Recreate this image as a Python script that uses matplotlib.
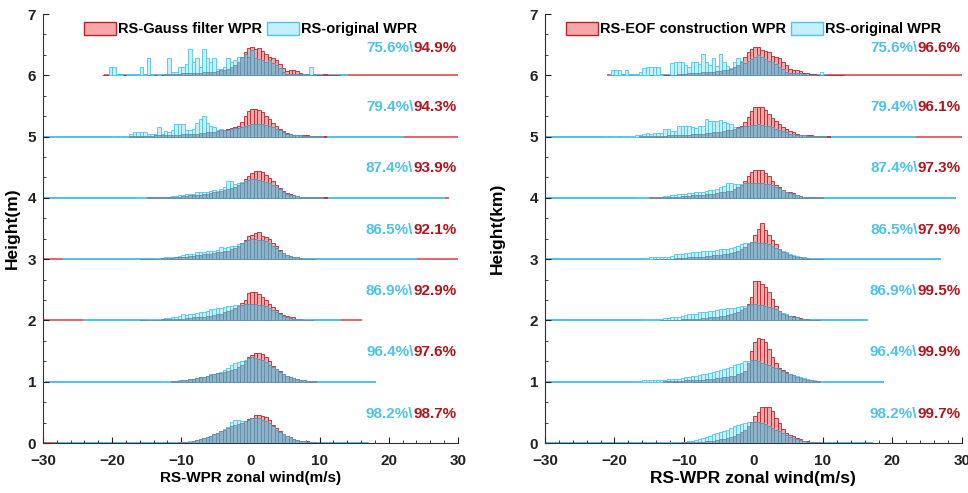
import numpy as np
import matplotlib.pyplot as plt
from matplotlib.patches import Patch
from matplotlib.ticker import MultipleLocator

plt.rcParams['font.family'] = ['Liberation Sans', 'DejaVu Sans']
plt.rcParams['font.weight'] = 'bold'

# bins are 0.5 m/s wide, left edges from -22 to 13.5
bin_left = np.arange(-22, 14, 0.5)
levels = [0, 1, 2, 3, 4, 5, 6]

# --- left panel: RS-Gauss filter WPR (red) vs RS-original WPR (cyan), values in % of 1 km row ---
gauss_h0 = [0,0,0,0, 0,0,0,0, 0,0,0,0, 0,0,0,0, 0,0,0,0, 0,0,0,1, 1,2,2,3, 5,6,8,10, 12,14,17,20, 22,25,27,29, 31,33,36,39, 41,45,45,44, 43,38,30,24, 19,15,12,9, 7,5,4,3, 3,1,1,0, 0,0,0,0, 0,0,0,0]
gauss_h1 = [0,0,0,0, 0,0,0,0, 0,0,0,0, 0,0,0,0, 0,0,0,0, 0,1,1,1, 2,3,4,5, 6,7,8,10, 11,13,14,15, 16,17,19,21, 24,28,33,40, 44,47,47,45, 40,33,26,21, 17,13,10,8, 6,4,3,2, 1,1,1,0, 0,0,0,0, 0,0,0,0]
gauss_h2 = [0,0,0,0, 0,0,0,0, 0,0,0,0, 1,1,1,1, 1,1,2,2, 2,2,3,3, 3,4,4,5, 5,6,6,7, 8,9,10,11, 13,15,17,20, 24,28,33,44, 46,46,43,38, 33,27,22,17, 12,9,7,6, 6,3,2,1, 1,1,0,0, 0,0,0,0, 0,0,0,0]
gauss_h3 = [0,0,0,0, 0,0,0,0, 0,0,0,0, 1,1,1,1, 1,1,2,2, 2,2,3,3, 4,4,5,5, 6,7,8,8, 9,10,11,12, 13,14,16,19, 22,26,32,37, 40,42,45,38, 36,33,26,21, 15,10,7,5, 3,3,2,1, 1,1,1,0, 0,0,0,0, 0,0,0,0]
gauss_h4 = [0,0,0,0, 0,0,0,0, 0,0,0,0, 0,0,1,1, 1,1,1,1, 1,2,2,2, 3,3,4,4, 5,5,6,7, 8,9,10,11, 13,14,16,18, 21,25,30,36, 41,44,44,42, 38,33,27,21, 16,11,8,6, 4,3,2,2, 1,1,1,1, 1,1,0,0, 0,0,0,0]
gauss_h5 = [0,0,0,0, 0,0,0,0, 0,1,1,1, 1,1,1,1, 2,2,2,2, 2,3,3,3, 4,4,4,5, 5,6,6,7, 7,8,9,10, 11,12,14,16, 18,24,33,41, 45,45,44,40, 34,28,22,17, 12,9,6,4, 3,3,2,2, 2,1,1,1, 1,1,0,0, 0,0,0,0]
gauss_h6 = [0,1,1,0, 0,0,0,1, 0,0,0,0, 0,0,1,0, 1,0,1,2, 2,2,2,2, 3,3,3,4, 4,4,5,5, 6,6,7,8, 9,11,13,16, 22,30,38,45, 46,43,44,40, 34,30,29,25, 19,12,7,8, 8,7,4,2, 2,1,2,1, 1,2,1,1, 1,1,0,0]

origL_h0 = [0,0,0,0, 0,0,0,0, 0,0,0,0, 0,0,0,0, 0,0,0,0, 0,0,1,1, 1,2,3,4, 5,6,8,10, 12,14,17,20, 23,26,35,37, 37,36,36,38, 40,41,40,38, 36,32,27,22, 18,15,12,9, 7,5,4,3, 2,1,1,0, 0,0,0,0, 0,0,0,0]
origL_h1 = [0,0,0,0, 0,0,0,0, 0,0,0,0, 0,0,0,0, 0,0,1,1, 1,1,1,2, 2,3,4,5, 6,7,8,10, 12,13,15,16, 19,22,27,30, 32,34,36,38, 40,39,37,35, 32,28,24,20, 16,13,10,8, 6,4,3,2, 1,1,1,0, 0,0,0,0, 0,0,0,0]
origL_h2 = [0,0,0,0, 0,0,0,0, 0,1,1,1, 1,1,2,2, 2,3,3,4, 4,5,6,8, 10,9,10,11, 12,14,14,16, 18,19,20,20, 22,23,24,25, 26,26,27,27, 27,27,26,25, 23,20,17,14, 11,8,6,4, 3,2,2,1, 3,1,0,0, 0,0,0,0, 0,0,0,0]
origL_h3 = [0,0,0,0, 0,0,0,0, 0,0,1,1, 1,1,1,1, 2,2,2,3, 3,4,4,5, 7,9,8,9, 11,12,12,13, 14,13,15,20, 19,20,21,22, 24,26,29,31, 33,33,32,31, 29,26,22,18, 14,10,7,5, 4,3,2,1, 1,1,1,0, 0,0,0,0, 0,0,0,0]
origL_h4 = [0,0,0,0, 0,0,0,0, 0,0,0,1, 1,1,1,1, 1,2,2,2, 2,3,3,4, 5,6,6,7, 9,10,9,10, 11,13,12,14, 18,27,28,22, 24,26,28,29, 30,30,29,28, 26,24,21,18, 14,10,7,5, 4,3,2,2, 1,1,1,1, 1,0,0,0, 0,0,0,0]
origL_h5 = [0,0,0,0, 1,0,1,0, 1,5,7,7, 7,7,5,5, 5,16,5,9, 8,11,21,21, 21,10,11,12, 22,28,33,22, 17,15,11,12, 10,10,12,14, 14,16,17,19, 20,21,20,20, 19,18,15,13, 10,7,5,4, 3,2,2,1, 1,1,1,1, 1,0,1,0, 0,0,0,0]
origL_h6 = [0,0,0,14, 14,0,0,0, 0,0,0,0, 14,0,29,0, 0,0,0,2, 29,6,6,14, 14,19,43,22, 29,14,43,29, 22,29,10,10, 14,29,22,25, 30,30,35,30, 42,28,27,25, 22,25,20,17, 12,6,2,2, 2,2,2,2, 2,14,2,0, 0,0,0,0, 0,0,0,0]

# --- right panel: RS-EOF construction WPR (red) vs RS-original WPR (cyan) ---
eof_h0 = [0,0,0,0, 0,0,0,0, 0,0,0,0, 0,0,0,0, 0,0,0,0, 0,0,0,1, 1,1,1,2, 2,2,3,3, 4,5,6,7, 8,10,12,15, 18,22,27,34, 44,50,58,59, 58,52,40,32, 23,16,13,11, 8,6,4,3, 2,1,1,0, 0,0,0,0, 0,0,0,0]
eof_h1 = [0,0,0,0, 0,0,0,0, 0,0,0,0, 0,0,0,0, 0,0,1,1, 1,1,1,1, 2,2,2,3, 3,3,4,4, 5,6,6,7, 8,9,10,12, 14,17,30,50, 64,71,70,64, 53,41,30,23, 19,16,13,11, 8,6,4,3, 2,1,1,0, 0,0,0,0, 0,0,0,0]
eof_h2 = [0,0,0,0, 0,0,0,0, 0,0,0,0, 0,0,0,0, 0,1,1,1, 1,1,1,2, 2,2,2,3, 3,4,4,5, 5,6,7,8, 9,10,12,14, 17,21,27,38, 65,65,60,54, 46,35,24,16, 11,9,8,8, 6,4,3,2, 1,1,1,0, 0,0,0,0, 0,0,0,0]
eof_h3 = [0,0,0,0, 0,0,0,0, 0,0,0,0, 0,0,0,1, 1,1,1,1, 1,2,2,2, 2,3,3,3, 4,4,5,5, 6,6,7,8, 9,10,12,14, 17,20,24,28, 39,50,59,48, 39,31,24,17, 12,10,7,5, 4,3,2,2, 1,1,1,1, 0,0,0,0, 0,0,0,0]
eof_h4 = [0,0,0,0, 0,0,0,0, 0,0,0,0, 0,0,1,1, 1,1,1,1, 2,2,2,3, 3,3,4,4, 5,5,6,6, 7,8,9,10, 11,12,14,17, 21,27,35,43, 46,46,45,40, 35,27,21,18, 13,10,9,8, 5,3,2,2, 1,1,1,1, 0,0,0,0, 0,0,0,0]
eof_h5 = [0,0,0,0, 0,0,0,0, 0,0,0,1, 1,1,1,1, 1,1,1,2, 2,2,2,3, 3,3,4,4, 5,5,6,6, 7,7,8,9, 10,11,13,15, 17,24,32,41, 48,49,48,44, 37,31,26,20, 15,12,9,7, 5,3,3,2, 2,1,1,1, 1,1,0,0, 0,0,0,0]
eof_h6 = [0,0,0,1, 0,0,0,0, 0,0,0,0, 0,0,1,0, 0,0,1,1, 1,1,2,2, 2,3,3,4, 4,5,5,6, 6,7,7,8, 9,10,13,16, 22,30,38,43, 46,46,42,40, 38,32,30,28, 22,16,10,8, 8,7,4,3, 2,2,1,1, 1,1,1,1, 1,1,0,0]

origR_h0 = [0,0,0,0, 0,0,0,0, 0,0,0,0, 0,0,0,0, 0,0,1,1, 1,1,1,2, 2,3,4,5, 6,8,10,12, 14,16,18,20, 22,24,27,29, 31,33,34,34, 34,34,33,31, 28,25,22,19, 16,13,10,8, 6,5,3,2, 2,1,1,0, 0,0,0,0, 0,0,0,0]
origR_h1 = [0,0,0,0, 0,0,0,0, 0,1,1,1, 2,2,2,2, 3,3,3,4, 4,5,5,6, 7,8,9,10, 11,12,13,15, 16,18,19,21, 22,24,27,29, 31,33,34,35, 35,33,31,29, 27,24,22,20, 17,15,13,11, 9,8,6,4, 3,2,1,1, 0,0,0,0, 0,0,0,0]
origR_h2 = [0,0,0,0, 0,0,0,0, 0,1,1,1, 2,2,2,3, 3,3,4,4, 5,6,6,7, 9,10,10,11, 13,14,14,15, 16,17,18,18, 20,21,21,22, 23,24,26,27, 27,26,25,24, 22,20,18,15, 12,10,8,6, 5,3,2,2, 1,1,1,0, 0,0,0,0, 0,0,0,0]
origR_h3 = [0,0,0,0, 0,0,0,0, 0,0,1,1, 1,2,3,4, 4,4,4,4, 5,8,9,9, 10,10,12,11, 12,13,13,14, 14,15,16,16, 17,19,20,22, 24,26,27,28, 28,27,27,26, 24,22,19,17, 14,11,9,7, 5,4,3,2, 1,1,1,1, 0,0,0,0, 0,0,0,0]
origR_h4 = [0,0,0,0, 0,0,0,0, 0,0,1,1, 1,1,1,2, 2,2,3,3, 4,5,6,7, 7,8,8,9, 10,10,12,13, 13,14,17,20, 24,24,22,22, 23,24,25,25, 25,25,24,23, 22,21,18,16, 13,10,8,6, 4,3,2,2, 1,1,1,1, 0,0,0,0, 0,0,0,0]
origR_h5 = [0,1,0,1, 1,0,1,0, 1,1,2,3, 5,6,5,6, 6,6,13,12, 9,9,18,18, 17,17,15,14, 18,17,28,25, 25,26,27,24, 22,20,15,14, 15,17,18,19, 19,20,19,18, 17,15,13,11, 9,7,5,4, 3,2,2,1, 1,1,1,1, 1,0,0,0, 0,0,0,0]
origR_h6 = [0,0,0,8, 8,8,0,8, 0,0,0,5, 12,14,14,14, 14,0,0,0, 20,22,22,22, 16,14,22,22, 18,35,22,17, 29,15,35,22, 15,12,22,29, 24,20,24,26, 30,33,30,26, 24,22,18,14, 10,6,4,3, 4,3,2,1, 1,1,0,5, 0,0,0,0, 0,0,0,0]

# extent of the zero-height outline drawn along each row (m/s)
gauss_span = [(-30, 17), (-29.5, 18), (-30, 16), (-30, 30), (-30, 28.5), (-30, 30), (-21, 30)]
origL_span = [(-28, 17), (-29.5, 18), (-24, 13), (-27, 24), (-30, 28), (-30, 22), (-20.5, 14)]
eof_span = [(-30, 17), (-30, 18.6), (-30, 16.4), (-30, 26.8), (-30, 29), (-30, 30), (-21, 30)]
origR_span = [(-30, 17), (-30, 18.6), (-30, 16.4), (-30, 26.8), (-30, 29), (-30, 23.2), (-20.5, 10.5)]

orig_pct = ["98.2%", "96.4%", "86.9%", "86.5%", "87.4%", "79.4%", "75.6%"]
gauss_pct = ["98.7%", "97.6%", "92.9%", "92.1%", "93.9%", "94.3%", "94.9%"]
eof_pct = ["99.7%", "99.9%", "99.5%", "97.9%", "97.3%", "96.1%", "96.6%"]

RED_FACE, RED_EDGE = "#f6a8a8", "#b8232a"
CYAN_FACE, CYAN_EDGE = "#c2f0fc", "#4cc6ee"
MIX_FACE, MIX_EDGE = "#8db3ca", "#5f84a0"
RED_TXT, CYAN_TXT = "#b3141c", "#4cc3ec"


def draw_panel(ax, red_rows, cyan_rows, red_span, cyan_span, red_pct, red_name):
    for k, lev in enumerate(levels):
        r = np.array(red_rows[k]) / 100.0
        c = np.array(cyan_rows[k]) / 100.0
        m = np.minimum(r, c)
        ax.plot(red_span[k], [lev, lev], color="#e06666", lw=1.4, zorder=1)
        ax.plot(cyan_span[k], [lev, lev], color=CYAN_EDGE, lw=1.4, zorder=1)
        sel = r > 0
        ax.bar(bin_left[sel], r[sel], width=0.5, bottom=lev, align="edge",
               color=RED_FACE, edgecolor=RED_EDGE, linewidth=0.6, zorder=2)
        sel = c > 0
        ax.bar(bin_left[sel], c[sel], width=0.5, bottom=lev, align="edge",
               color=CYAN_FACE, edgecolor=CYAN_EDGE, linewidth=0.6, zorder=3)
        sel = m > 0
        ax.bar(bin_left[sel], m[sel], width=0.5, bottom=lev, align="edge",
               color=MIX_FACE, edgecolor=MIX_EDGE, linewidth=0.5, zorder=4)

        yoff = 0.45 if lev == 6 else 0.48
        t = ax.text(29.8, lev + yoff, red_pct[k], color=RED_TXT, ha="right", va="center",
                    fontsize=11, fontweight="bold", zorder=6)
        ax.annotate(orig_pct[k] + "\\", xy=(0, 0.5), xycoords=t, ha="right", va="center",
                    color=CYAN_TXT, fontsize=11, fontweight="bold", zorder=6)

    ax.set_xlim(-30, 30)
    ax.set_ylim(0, 7)
    ax.xaxis.set_major_locator(MultipleLocator(10))
    ax.xaxis.set_minor_locator(MultipleLocator(2))
    ax.yaxis.set_major_locator(MultipleLocator(1))
    ax.yaxis.set_minor_locator(MultipleLocator(1 / 3))
    ax.tick_params(which="both", direction="in", labelsize=11, colors="#222222")
    ax.tick_params(which="major", length=4, width=0.8)
    ax.tick_params(which="minor", length=2, width=0.6)
    ax.tick_params(axis="x", which="major", pad=8)
    ax.tick_params(axis="y", which="major", pad=5)
    for s in ["top", "right"]:
        ax.spines[s].set_visible(False)
    for s in ["left", "bottom"]:
        ax.spines[s].set_color("#333333")
        ax.spines[s].set_linewidth(0.8)

    handles = [Patch(facecolor=RED_FACE, edgecolor=RED_EDGE, label=red_name),
               Patch(facecolor=CYAN_FACE, edgecolor=CYAN_EDGE, label="RS-original WPR")]
    ax.legend(handles=handles, loc="center", bbox_to_anchor=(0.5, 0.965), ncol=2,
              frameon=False, fontsize=10.5, handlelength=2.2, handleheight=1.0,
              handletextpad=0.15, columnspacing=0.3, borderaxespad=0)


fig = plt.figure(figsize=(9.68, 4.93), dpi=100)
ax1 = fig.add_axes([0.0444, 0.1014, 0.4287, 0.8702])
ax2 = fig.add_axes([0.563, 0.1014, 0.4308, 0.8702])

gauss_rows = [gauss_h0, gauss_h1, gauss_h2, gauss_h3, gauss_h4, gauss_h5, gauss_h6]
origL_rows = [origL_h0, origL_h1, origL_h2, origL_h3, origL_h4, origL_h5, origL_h6]
eof_rows = [eof_h0, eof_h1, eof_h2, eof_h3, eof_h4, eof_h5, eof_h6]
origR_rows = [origR_h0, origR_h1, origR_h2, origR_h3, origR_h4, origR_h5, origR_h6]

draw_panel(ax1, gauss_rows, origL_rows, gauss_span, origL_span, gauss_pct, "RS-Gauss filter WPR")
draw_panel(ax2, eof_rows, origR_rows, eof_span, origR_span, eof_pct, "RS-EOF construction WPR")

fig.text(12 / 968, 0.5365, "Height(m)", rotation=90, ha="center", va="center",
         fontsize=12.5, fontweight="bold")
fig.text(497 / 968, 0.5365, "Height(km)", rotation=90, ha="center", va="center",
         fontsize=12.5, fontweight="bold")
fig.text(251 / 968, 1 - 478 / 493, "RS-WPR zonal wind(m/s)", ha="center", va="center",
         fontsize=11, fontweight="bold")
fig.text(753 / 968, 1 - 478 / 493, "RS-WPR zonal wind(m/s)", ha="center", va="center",
         fontsize=12.5, fontweight="bold")

fig.savefig("out.png", dpi=100)
